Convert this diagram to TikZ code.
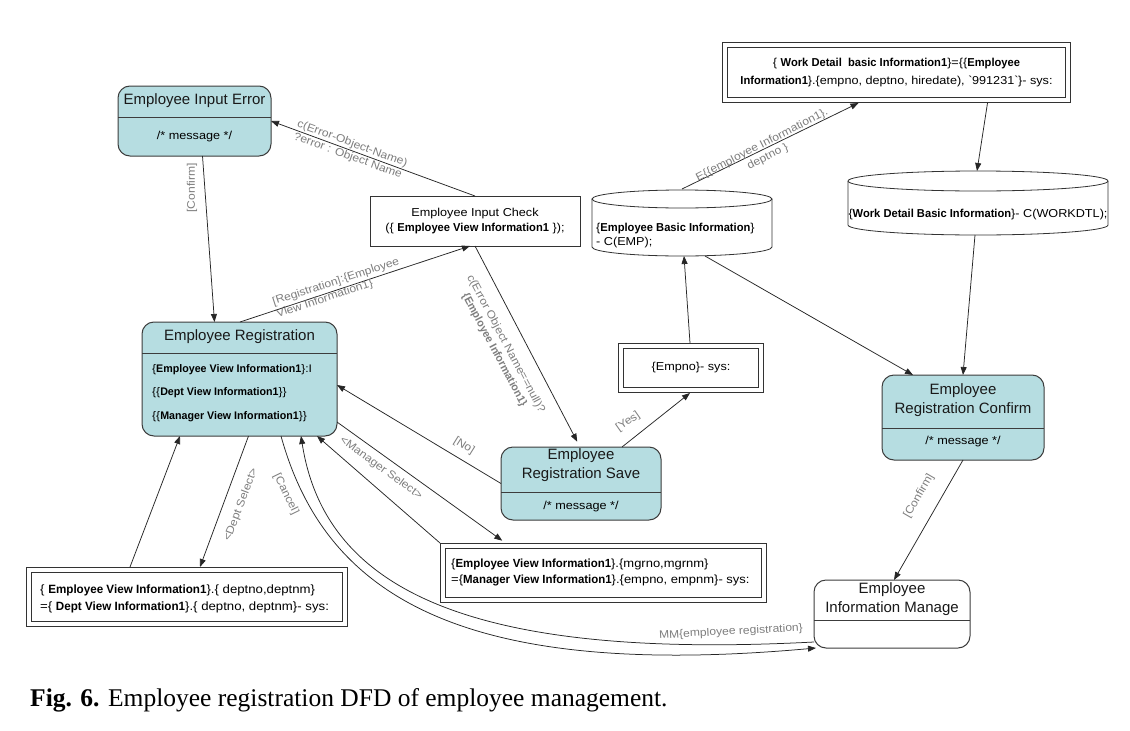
\documentclass[tikz,border=0pt]{standalone}
\usepackage{fontspec}
\setmainfont{Liberation Sans}
\newfontfamily\capfont{Liberation Serif}
\newfontfamily\wfont{Liberation Sans}[FakeStretch=1.1]
\newfontfamily\cbfont{Liberation Sans}[UprightFont={* Bold}, FakeStretch=0.97]
\newcommand\bfx[1]{{\cbfont #1}}
\newcommand\txf[2]{\wfont\fontsize{#1}{#2}\selectfont}
\usetikzlibrary{arrows.meta}
\definecolor{boxfill}{HTML}{B6DDE1}
\definecolor{edgec}{HTML}{3C3C3C}
\definecolor{lab}{HTML}{7E7E7E}
\begin{document}
\begin{tikzpicture}[x=1pt,y=-1pt,
  proc/.style={draw=edgec, fill=boxfill, rounded corners=12pt, line width=1pt, inner sep=0pt, outer sep=0pt},
  procw/.style={proc, fill=white},
  plain/.style={draw=black!80, line width=0.8pt, inner sep=0pt, outer sep=0pt},
  dbl/.style={draw=black!80, line width=0.7pt, double=white, double distance=4.6pt, inner sep=0pt, outer sep=3pt},
  ttl/.style={font=\fontsize{15}{19}\selectfont, align=center, inner sep=0pt, text=black!90},
  msg/.style={font=\txf{11.5}{14}, inner sep=0pt},
  txt/.style={font=\txf{11.5}{15}, inner sep=0pt},
  lbl/.style={font=\txf{11}{13}, text=lab, inner sep=0pt},
  divl/.style={draw=edgec, line width=1pt},
  flow/.style={draw=black!85, line width=0.75pt, -{Triangle[length=8pt,width=6pt]}},
]
\useasboundingbox (0,0) rectangle (1130,731);
\fill[white] (0,0) rectangle (1130,731);

% Employee Input Error
\node[proc, minimum width=153pt, minimum height=70pt] (err) at (194.5,121) {};
\draw[divl] (118,117) -- (271,117);
\node[ttl] (errt) at (194.5,101) {Employee Input Error};
\node[msg] (errm) at (194.5,137) {/* message */};

% Employee Input Check
\node[plain, minimum width=210pt, minimum height=50pt, txt, align=center] (chk) at (475,221)
  {Employee Input Check\\(\{ \bfx{Employee View Information1} \});};

% Employee Registration
\node[proc, minimum width=195pt, minimum height=114pt] (reg) at (239.5,379) {};
\draw[divl] (142,353) -- (337,353);
\node[ttl] (regt) at (239.5,337) {Employee Registration};
\node[txt, font=\txf{11}{23.5}, anchor=west, align=left] (regl) at (152,393)
  {\{\bfx{Employee View Information1}\}:I\\\{\{\bfx{Dept View Information1}\}\}\\\{\{\bfx{Manager View Information1}\}\}};

% Employee Registration Save
\node[proc, minimum width=160pt, minimum height=73pt] (save) at (581,483.5) {};
\draw[divl] (501,492) -- (661,492);
\node[ttl] (savet) at (581,465) {Employee\\Registration Save};
\node[msg] (savem) at (581,507) {/* message */};

% Empno box
\node[dbl, minimum width=140pt, minimum height=44pt, txt] (ebox) at (691,368) {\{Empno\}- sys:};

% Employee Basic Information store
\node[inner sep=0pt, outer sep=0pt, minimum width=180pt, minimum height=67pt] (ebi) at (682,222.5) {};
\draw[plain] (592,199) -- (592,247) arc[start angle=180, end angle=360, x radius=90pt, y radius=9pt] -- (772,199);
\draw[plain] (682,199) ellipse[x radius=90pt, y radius=9pt];
\node[txt, font=\txf{11.5}{14}, anchor=west, align=left] (ebit) at (596,236)
  {\{\bfx{Employee Basic Information}\}\\- C(EMP);};

% Work detail box
\node[dbl, minimum width=343pt, minimum height=55pt, txt, font=\txf{11.5}{18}, align=center] (wdb) at (896.5,72.5)
  {\{ \bfx{Work Detail\ \ basic Information1}\}=\{\{\bfx{Employee}\\\bfx{Information1}\}.\{empno, deptno, hiredate), \textasciigrave{}991231\textasciigrave{}\}- sys:};

% Work detail store
\node[inner sep=0pt, outer sep=0pt, minimum width=260pt, minimum height=64pt] (wdc) at (978,203) {};
\draw[plain] (848,181) -- (848,225) arc[start angle=180, end angle=360, x radius=130pt, y radius=10pt] -- (1108,181);
\draw[plain] (978,181) ellipse[x radius=130pt, y radius=10pt];
\node[txt] (wdct) at (978,215) {\{\bfx{Work Detail Basic Information}\}- C(WORKDTL);};

% Employee Registration Confirm
\node[proc, minimum width=162pt, minimum height=85pt] (cf) at (963,417.5) {};
\draw[divl] (882,428) -- (1044,428);
\node[ttl] (cft) at (963,400.5) {Employee\\Registration Confirm};
\node[msg] (cfm) at (963,442) {/* message */};

% Employee Information Manage
\node[procw, minimum width=156pt, minimum height=68pt] (im) at (892,614) {};
\draw[divl] (814,620) -- (970,620);
\node[ttl] (imt) at (892,599) {Employee\\Information Manage};

% Dept box
\node[dbl, minimum width=316pt, minimum height=54pt] (dbox) at (187,597) {};
\node[txt, font=\txf{12}{17}, anchor=west, align=left] (dboxt) at (40,598.5)
  {\{ \bfx{Employee View Information1}\}.\{ deptno,deptnm\}\\=\{ \bfx{Dept View Information1}\}.\{ deptno, deptnm\}- sys:};

% Manager box
\node[dbl, minimum width=321pt, minimum height=54pt] (mbox) at (603.5,573) {};
\node[txt, font=\txf{11.8}{16}, anchor=west, align=left] (mboxt) at (451,572)
  {\{\bfx{Employee View Information1}\}.\{mgrno,mgrnm\}\\=\{\bfx{Manager View Information1}\}.\{empno, empnm\}- sys:};

% Connectors
\draw[flow] (chk.north) -- (err.east);
\node[lbl, rotate=-20, align=center] (l1) at (350,150) {c(Error-Object-Name)\\?error : Object Name};

\draw[flow] ([xshift=8pt]err.south) -- ([xshift=-25pt]reg.north);
\node[lbl, rotate=90] (l2) at (192,188) {[Confirm]};

\draw[flow] ([xshift=0.5pt]reg.north) -- ([xshift=-5pt]chk.south);
\node[lbl, rotate=18, align=left] (l3) at (338,288) {[Registration]:\{Employee\\View Information1\}};

\draw[flow, shorten >=6pt] (chk.south) -- ([xshift=-1pt]save.north);
\node[lbl, rotate=-62, align=center] (l4) at (500,347) {c(Error Object Name==null)?\\\bfx{\{Employee Information1\}}};

\draw[flow] (save.west) -- ([yshift=-6pt]reg.east);
\node[lbl, rotate=-32] (l5) at (464,446) {[No]};

\draw[flow] ([xshift=41pt]save.north) -- ([xshift=-1pt]ebox.south);
\node[lbl, rotate=35] (l6) at (628,422) {[Yes]};

\draw[flow] ([xshift=-1pt]ebox.north) -- ([xshift=2pt]ebi.south);

\draw[flow] (ebi.north) -- ([xshift=-38pt]wdb.south);
\node[lbl, rotate=27, align=center] (l7) at (765,151) {E\{\{employee Information1\}.\\deptno \}};

\draw[flow] ([xshift=91pt]wdb.south) -- ([xshift=-1pt]wdc.north);
\draw[flow] ([xshift=-3pt]wdc.south) -- (cf.north);
\draw[flow] ([xshift=23pt]ebi.south) -- ([xshift=-50pt]cf.north);

\draw[flow] (cf.south) -- ([xshift=2pt]im.north);
\node[lbl, rotate=60] (l8) at (919,496) {[Confirm]};

\draw[flow] ([xshift=9pt]reg.south) -- ([xshift=13pt]dbox.north);
\node[lbl, rotate=69] (l9) at (241,505) {<Dept Select>};

\draw[flow] ([xshift=-57pt]dbox.north) -- ([xshift=-59.5pt]reg.south);

\draw[flow, shorten >=4pt] ([yshift=-43pt]reg.east) -- ([xshift=-98pt]mbox.north);
\node[lbl, rotate=-36] (l10) at (381,468) {<Manager Select>};

\draw[flow] (mbox.north west) -- ([xshift=-20pt]reg.south east);

\draw[flow] ([xshift=41.5pt]reg.south) .. controls (325,595) and (460,680) .. ([xshift=2pt]im.south west);
\node[lbl, rotate=-64] (l11) at (286,494) {[Cancel]};

\draw[flow] ([yshift=-28pt]im.west) .. controls (470,660) and (325,590) .. ([xshift=-36pt]reg.south east);
\node[lbl, rotate=3] (l12) at (731,632) {MM\{employee registration\}};

% Caption
\node[anchor=base west, inner sep=0pt, font=\capfont\fontsize{25.5}{29}\selectfont] (cap) at (30,706)
  {\textbf{Fig. 6.} Employee registration DFD of employee management.};
\end{tikzpicture}
\end{document}
